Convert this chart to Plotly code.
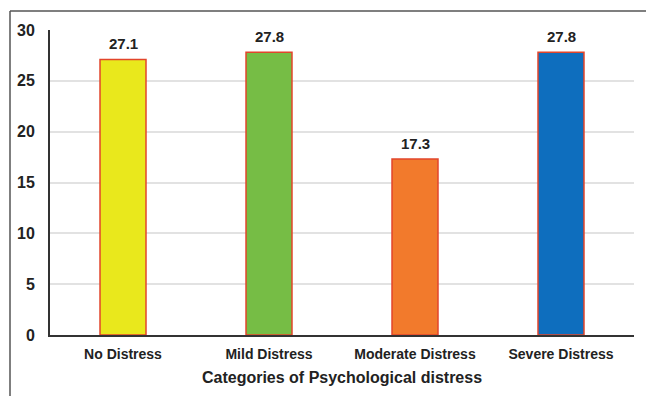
import plotly.graph_objects as go

categories = ["No Distress", "Mild Distress", "Moderate Distress", "Severe Distress"]
values = [27.1, 27.8, 17.3, 27.8]
colors = ["#E9E81C", "#76BD45", "#F27A2C", "#0E6EBE"]
y_ticks = [0, 5, 10, 15, 20, 25, 30]

fig = go.Figure()
fig.add_trace(go.Bar(
    x=categories, y=values,
    marker=dict(color=colors, line=dict(color="#E2452B", width=1.5)),
    width=0.315,
))

for c, v in zip(categories, values):
    fig.add_annotation(x=c, y=v, text=f"<b>{v}</b>", showarrow=False,
                       yanchor="bottom", yshift=5,
                       font=dict(family="Liberation Sans, Arial", size=15, color="#222"))

L, R, T, B = 50, 12, 30, 61
W, H = 646, 396
pw, ph = W - L - R, H - T - B

# outer frame (top and left lines)
fig.add_shape(type="line", xref="paper", yref="paper",
              x0=(10 - L) / pw, x1=(W - L) / pw, y0=1 + (T - 11) / ph, y1=1 + (T - 11) / ph,
              line=dict(color="#555", width=1.5))
fig.add_shape(type="line", xref="paper", yref="paper",
              x0=(10 - L) / pw, x1=(10 - L) / pw, y0=1 + (T - 11) / ph, y1=-B / ph - 0.01,
              line=dict(color="#555", width=1.5))

fig.update_layout(
    width=W, height=H,
    margin=dict(l=L, r=R, t=T, b=B),
    paper_bgcolor="white", plot_bgcolor="white",
    showlegend=False,
    bargap=0.685,
    font=dict(family="Liberation Sans, Arial", color="#222"),
    xaxis=dict(
        title=dict(text="<b>Categories of Psychological distress</b>", font=dict(size=16), standoff=11),
        tickfont=dict(size=14),
        tickvals=categories, ticktext=[f"<b>{c}</b>" for c in categories],
        showline=True, linecolor="#333", linewidth=2,
        ticks="", ticklabelstandoff=5,
    ),
    yaxis=dict(
        range=[0, 30], tickvals=y_ticks,
        ticktext=[f"<b>{t}</b>" for t in y_ticks],
        tickfont=dict(size=16),
        showline=True, linecolor="#333", linewidth=2,
        showgrid=True, gridcolor="#E2E2E2", gridwidth=1.5,
        ticks="", ticklabelstandoff=10, zeroline=False,
    ),
)

fig.write_html("out.html")
